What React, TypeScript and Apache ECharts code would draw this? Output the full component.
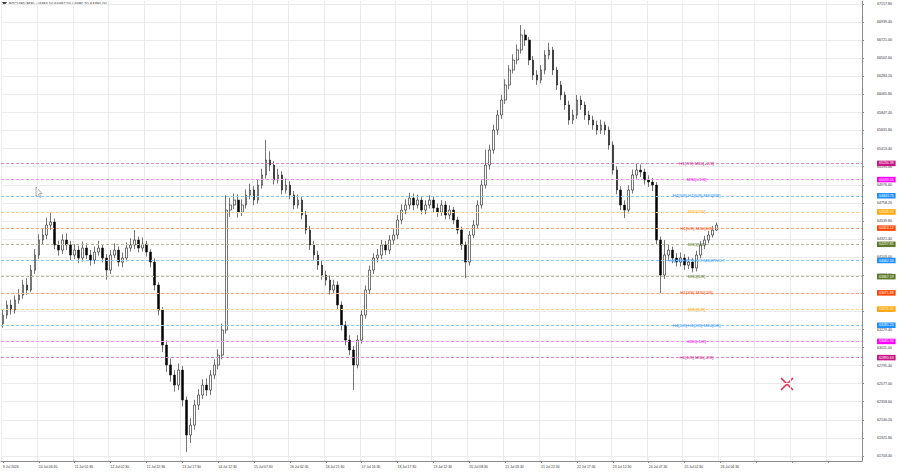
import React, { useEffect, useRef } from "react";
import * as echarts from "echarts";

const titleText = "BTCUSD,M30  64484.50 64492.50 64480.50 64490.00";

const timeLabels = [
  "9 Jul 2026", "10 Jul 06:30", "11 Jul 01:30", "12 Jul 02:30", "12 Jul 22:30",
  "13 Jul 17:30", "14 Jul 12:30", "15 Jul 07:30", "16 Jul 02:30", "16 Jul 21:30",
  "17 Jul 16:30", "18 Jul 17:30", "19 Jul 12:30", "20 Jul 08:30", "21 Jul 03:30",
  "21 Jul 22:30", "22 Jul 17:30", "23 Jul 12:30", "24 Jul 07:30", "25 Jul 02:30",
  "26 Jul 04:30",
];

const priceTicks = [
  67157.8, 66939.4, 66721.0, 66502.6, 66284.2, 66065.8, 65847.4, 65631.8, 65413.4,
  65195.0, 64976.6, 64758.2, 64539.8, 64321.4, 64103.0, 63884.6, 63666.2, 63447.8,
  63229.4, 63011.0, 62795.4, 62577.0, 62358.6, 62140.2, 61921.8, 61703.4,
];

const firstOpen = 63300;
const closes = [
  63404, 63525, 63464, 63585, 63645, 63766, 63706, 63947, 64128, 64309,
  64370, 64490, 64526, 64249, 64188, 64309, 64249, 64128, 64188, 64092,
  64213, 64128, 64068, 64164, 64213, 64092, 63947, 64128, 64188, 64043,
  64092, 64213, 64249, 64309, 64213, 64261, 64164, 64043, 63766, 63464,
  63042, 62801, 62680, 62559, 62740, 62378, 61956, 62076, 62318, 62439,
  62559, 62499, 62680, 62801, 62921, 63223, 64671, 64732, 64792, 64647,
  64732, 64852, 64913, 64792, 64973, 65094, 65275, 65214, 65033, 65094,
  64913, 64973, 64852, 64732, 64792, 64611, 64430, 64249, 64128, 64007,
  63887, 63826, 63706, 63766, 63525, 63283, 63102, 62982, 62801, 63102,
  63404, 63706, 63947, 64092, 64128, 64249, 64188, 64309, 64370, 64551,
  64671, 64732, 64816, 64732, 64792, 64671, 64732, 64792, 64695, 64647,
  64732, 64611, 64671, 64551, 64430, 64249, 64043, 64370, 64490, 64732,
  64973, 65214, 65396, 65637, 65818, 65999, 66180, 66361, 66482, 66603,
  66784, 66723, 66482, 66301, 66240, 66361, 66542, 66603, 66361, 66180,
  66059, 65939, 65758, 65818, 65999, 65939, 65818, 65758, 65697, 65637,
  65697, 65637, 65456, 65154, 64913, 64732, 64671, 64913, 65094, 65154,
  65130, 65033, 65009, 64973, 64309, 63887, 64128, 64188, 64092, 64043,
  64092, 64007, 64043, 63971, 64128, 64249, 64309, 64370, 64430, 64490,
];
const highs = [
  63470, 63580, 63590, 63640, 63720, 63830, 63850, 64010, 64200, 64380,
  64450, 64580, 64640, 64570, 64300, 64380, 64390, 64300, 64260, 64240,
  64290, 64270, 64190, 64230, 64300, 64260, 64140, 64190, 64270, 64230,
  64160, 64280, 64330, 64430, 64350, 64340, 64300, 64200, 64090, 63800,
  63500, 63100, 62880, 62740, 62820, 62790, 62420, 62160, 62380, 62510,
  62630, 62640, 62740, 62870, 62990, 63300, 64850, 64820, 64870, 64860,
  64800, 64920, 64990, 64960, 65040, 65170, 65520, 65380, 65260, 65170,
  65140, 65050, 65020, 64900, 64860, 64830, 64660, 64480, 64300, 64180,
  64060, 63940, 63880, 63830, 63810, 63570, 63330, 63160, 63030, 63160,
  63460, 63760, 64000, 64150, 64200, 64310, 64300, 64370, 64440, 64610,
  64740, 64800, 64880, 64870, 64860, 64840, 64790, 64850, 64840, 64750,
  64790, 64780, 64730, 64710, 64590, 64470, 64290, 64420, 64550, 64790,
  65030, 65400, 65460, 65700, 65880, 66060, 66250, 66420, 66550, 66670,
  66904, 66850, 66760, 66530, 66360, 66420, 66600, 66690, 66640, 66400,
  66230, 66100, 65990, 65880, 66060, 66050, 65980, 65870, 65810, 65750,
  65760, 65740, 65680, 65500, 65200, 64960, 64790, 64970, 65160, 65230,
  65220, 65170, 65090, 65060, 65010, 64350, 64310, 64250, 64230, 64150,
  64160, 64140, 64110, 64090, 64180, 64300, 64360, 64420, 64480, 64520,
];
const lows = [
  63250, 63360, 63410, 63420, 63540, 63600, 63650, 63680, 63900, 64080,
  64260, 64320, 64430, 64200, 64120, 64140, 64190, 64070, 64080, 64030,
  64050, 64080, 64000, 64020, 64120, 64040, 63830, 63900, 64090, 63990,
  63980, 64050, 64170, 64200, 64160, 64170, 64110, 63980, 63700, 63400,
  62960, 62720, 62600, 62480, 62500, 62300, 61750, 61860, 62020, 62260,
  62390, 62430, 62440, 62630, 62750, 62870, 63180, 64590, 64680, 64580,
  64600, 64690, 64800, 64730, 64750, 64930, 65050, 65140, 64980, 64990,
  64860, 64870, 64800, 64680, 64690, 64560, 64380, 64190, 64070, 63950,
  63830, 63760, 63650, 63660, 63470, 63220, 63040, 62920, 62500, 62760,
  63060, 63360, 63660, 63900, 64040, 64080, 64130, 64140, 64260, 64320,
  64500, 64620, 64680, 64670, 64690, 64620, 64620, 64690, 64640, 64590,
  64600, 64560, 64560, 64500, 64380, 64190, 63850, 64000, 64330, 64450,
  64690, 64930, 65160, 65350, 65580, 65770, 65950, 66130, 66320, 66430,
  66560, 66650, 66420, 66240, 66180, 66200, 66310, 66490, 66300, 66120,
  66000, 65880, 65700, 65710, 65770, 65880, 65760, 65700, 65640, 65580,
  65590, 65580, 65400, 65100, 64860, 64670, 64575, 64630, 64870, 65050,
  65070, 64980, 64950, 64900, 64250, 63670, 63840, 64070, 64030, 63990,
  63990, 63950, 63960, 63920, 63930, 64090, 64200, 64270, 64340, 64420,
];

const levelPrices = [
  65234.38, 65039.06, 64843.75, 64648.44, 64453.13, 64257.81, 64062.5,
  63867.19, 63671.88, 63476.56, 63281.25, 63085.94, 62890.63,
];
const levelNames = [
  "H1[7/8] M30[+2/8]", "M30[+1/8]", "H4[3/8] H1[6/8] M30[8/8]", "M30[7/8]",
  "H1[5/8] M30[6/8]", "M30[5/8]", "H4[2/8] H1PIVOT M30PIVOT", "M30[3/8]",
  "H1[3/8] M30[2/8]", "M30[1/8]", "H4[1/8] H1[2/8] M30[0/8]", "M30[-1/8]",
  "H1[1/8] M30[-2/8]",
];
const levelColors = [
  "#C71585", "#FF00FF", "#1E90FF", "#FFA500", "#FF4500", "#5F7A2A", "#1E90FF",
  "#5F7A2A", "#FF4500", "#FFA500", "#1E90FF", "#FF00FF", "#C71585",
];
const levelLineColors = [
  "#e08cc2", "#ff8cff", "#8fc6ff", "#ffd28a", "#ffa68a", "#b3bf9b", "#8fc6ff",
  "#b3bf9b", "#ffa68a", "#ffd28a", "#8fc6ff", "#ff8cff", "#e08cc2",
];

const TOTAL_SLOTS = 216;
const LABEL_EVERY = 9;
const LEVEL_LABEL_SLOT = "174";

export default function App() {
  const ref = useRef<HTMLDivElement>(null);
  useEffect(() => {
    document.body.style.margin = "0";
    if (!ref.current) return;
    const chart = echarts.init(ref.current, undefined, { renderer: "svg" });
    const categories = Array.from({ length: TOTAL_SLOTS }, (_, i) => String(i));
    const candles = closes.map((c, i) => [
      i === 0 ? firstOpen : closes[i - 1],
      c,
      lows[i],
      highs[i],
    ]);
    const font = "Liberation Sans, DejaVu Sans, sans-serif";
    chart.setOption({
      animation: false,
      backgroundColor: "#ffffff",
      grid: { left: 1, right: 38, top: 1, bottom: 13, outerBoundsMode: "none" },
      xAxis: {
        type: "category",
        data: categories,
        boundaryGap: true,
        axisLine: { show: true, lineStyle: { color: "#8c8c8c", width: 1 } },
        axisTick: {
          show: true,
          interval: LABEL_EVERY - 1,
          alignWithLabel: true,
          length: 2,
          lineStyle: { color: "#8c8c8c" },
        },
        axisLabel: {
          interval: LABEL_EVERY - 1,
          align: "left",
          margin: 4,
          fontSize: 3.4,
          fontFamily: font,
          color: "#333",
          formatter: (_v: string, idx: number) =>
            idx % LABEL_EVERY === 0 ? timeLabels[idx / LABEL_EVERY] ?? "" : "",
        },
        splitLine: {
          show: true,
          interval: LABEL_EVERY - 1,
          lineStyle: { color: "#ebebeb", width: 1 },
        },
      },
      yAxis: {
        type: "value",
        position: "right",
        min: 61643,
        max: 67194,
        scale: true,
        axisLine: { show: true, lineStyle: { color: "#8c8c8c", width: 1 } },
        axisTick: {
          show: true,
          length: 2,
          customValues: priceTicks,
          lineStyle: { color: "#8c8c8c" },
        },
        axisLabel: {
          customValues: priceTicks,
          formatter: (v: number) => v.toFixed(2),
          fontSize: 3.6,
          fontFamily: font,
          color: "#333",
          margin: 15,
        },
        splitLine: { show: true, lineStyle: { color: "#ebebeb", width: 1 } },
      },
      series: [
        {
          type: "candlestick",
          data: candles,
          barWidth: "55%",
          itemStyle: {
            color: "#ffffff",
            color0: "#000000",
            borderColor: "#1a1a1a",
            borderColor0: "#1a1a1a",
            borderWidth: 0.6,
          },
          markLine: {
            silent: true,
            symbol: ["none", "none"],
            precision: 2,
            lineStyle: { type: [3, 2], width: 1 },
            label: {
              show: true,
              position: "end",
              distance: 15,
              color: "#ffffff",
              fontSize: 3.5,
              fontFamily: font,
              padding: [1, 2, 0.5, 2],
            },
            data: levelPrices.map((p, i) => ({
              yAxis: p,
              lineStyle: { color: levelLineColors[i], type: [3, 2], width: 1 },
              label: { backgroundColor: levelColors[i], formatter: p.toFixed(2) },
            })),
          },
          markPoint: {
            silent: true,
            symbol: "circle",
            symbolSize: 0.1,
            itemStyle: { color: "rgba(0,0,0,0)" },
            label: {
              show: true,
              position: "inside",
              fontSize: 4.4,
              fontFamily: font,
              textBorderWidth: 0,
              textBorderColor: "transparent",
              backgroundColor: "transparent",
              formatter: "{b}",
            },
            data: levelPrices.map((p, i) => ({
              name: levelNames[i],
              coord: [LEVEL_LABEL_SLOT, p],
              label: { color: levelColors[i] },
            })),
          },
        },
      ],
      graphic: [
        {
          type: "polygon",
          shape: { points: [[2, 2], [7, 2], [4.5, 5.5]] },
          style: { fill: "#444" },
        },
        {
          type: "text",
          x: 9,
          y: 1.5,
          style: { text: titleText, fontSize: 4, fontFamily: font, fill: "#222" },
        },
        {
          type: "polygon",
          shape: {
            points: [[36, 187], [36, 196], [38, 194], [40, 197.5], [41.3, 196.8], [39.4, 193.5], [42, 193.5]],
          },
          style: { fill: "#ffffff", stroke: "#777", lineWidth: 0.6 },
        },
        {
          type: "line",
          shape: { x1: 781, y1: 378, x2: 793, y2: 390 },
          style: { stroke: "#E8294A", lineWidth: 1.6 },
        },
        {
          type: "line",
          shape: { x1: 781, y1: 390, x2: 793, y2: 378 },
          style: { stroke: "#E8294A", lineWidth: 1.6 },
        },
      ],
    });
    return () => chart.dispose();
  }, []);
  return <div ref={ref} style={{ width: 900, height: 474 }} />;
}
